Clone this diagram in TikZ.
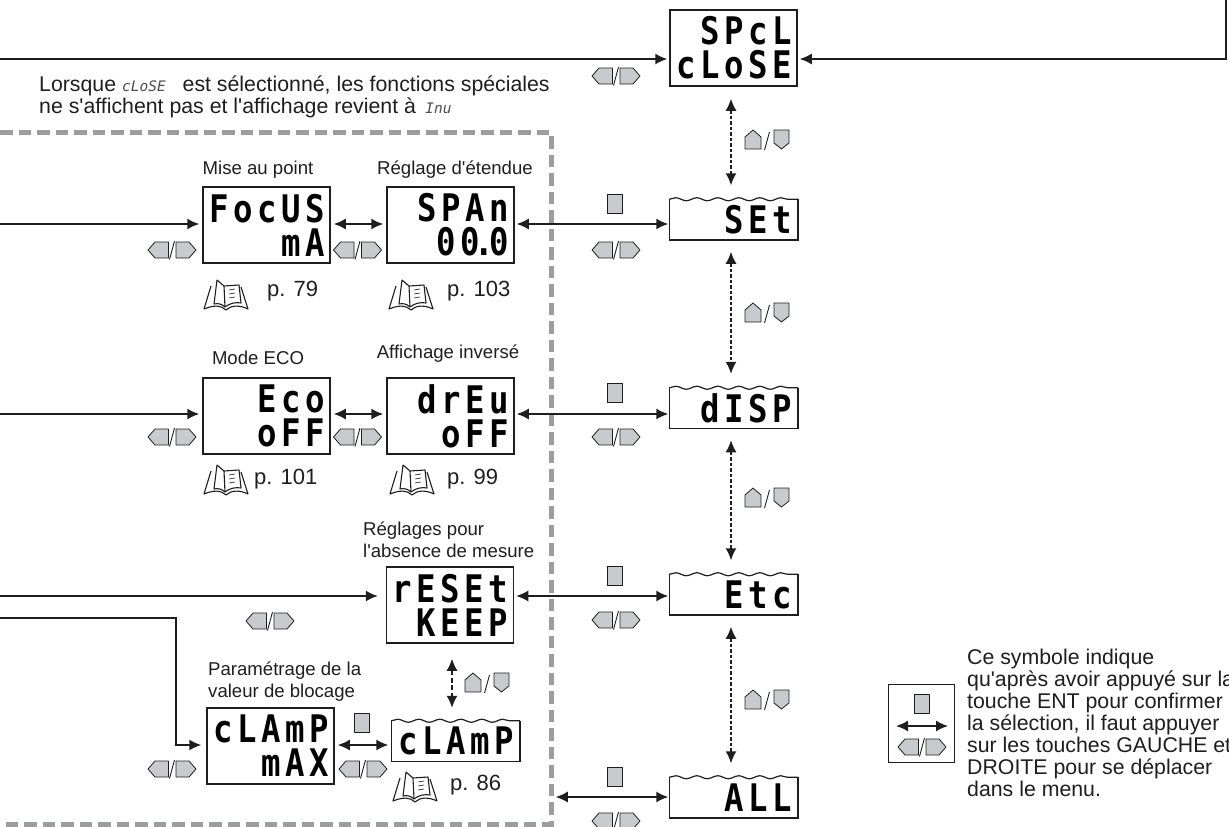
\documentclass[tikz,border=0pt]{standalone}
\usepackage{fontspec}
\usepackage{xcolor}
\usetikzlibrary{arrows.meta, decorations.pathmorphing}
\setmainfont[Ligatures=TeXOff]{Liberation Sans}
\newfontfamily\lcdfont[LetterSpace=12,FakeStretch=0.85]{DejaVu Sans Mono Bold}
\newfontfamily\lcdsmall{DejaVu Sans Mono}
\definecolor{keygray}{RGB}{200,202,205}
\definecolor{framegray}{RGB}{155,157,160}
\definecolor{inkdark}{RGB}{30,30,30}
\newcommand{\lcdword}[1]{{\lcdsmall\itshape\fontsize{14.5}{14}\selectfont\color{black!70}#1}}

\begin{document}
\begin{tikzpicture}[x=1pt,y=-1pt,
  lcd/.style={draw=inkdark, line width=1.5pt, minimum width=127pt, minimum height=76pt, inner sep=0pt,
              text width=116pt, align=right, font=\lcdfont\fontsize{38}{34}\selectfont},
  lcdwave/.style={lcd, draw=none, minimum height=39pt},
  caption/.style={font=\fontsize{18.6}{22}\selectfont, inner sep=0pt, align=left, text=inkdark},
  pageref/.style={font=\fontsize{22}{24}\selectfont, inner sep=0pt, anchor=west, text=inkdark},
  note/.style={font=\fontsize{21.3}{22}\selectfont, inner sep=0pt, align=left, anchor=west, text=inkdark},
  link/.style={line width=1.5pt, draw=inkdark, -{Latex[length=12pt,width=11pt]}},
  dlink/.style={line width=1.5pt, draw=inkdark, {Latex[length=12pt,width=11pt]}-{Latex[length=12pt,width=11pt]}},
  updown/.style={dlink, dash pattern=on 3.5pt off 2pt, shorten <=12pt, shorten >=14pt},
  wave/.style={line width=1.2pt, draw=inkdark, decorate, decoration={snake, segment length=21pt, amplitude=1.5pt}},
  keyshape/.style={fill=keygray, draw=inkdark, line width=0.8pt, line join=round},
  entkey/.pic={\draw[keyshape] (-7.5,-9.5) rectangle (7.5,9.5);},
  lrkey/.pic={
    \draw[keyshape] (-24,0) -- (-17,-8) -- (-3.5,-8) -- (-3.5,8) -- (-17,8) -- cycle;
    \draw[keyshape] (24,0) -- (17,-8) -- (4,-8) -- (4,8) -- (17,8) -- cycle;
    \draw[line width=0.9pt, inkdark] (-2.5,9.5) -- (2.5,-9);},
  udkey/.pic={
    \draw[keyshape] (-22,9) -- (-22,-3) -- (-14,-10) -- (-6,-3) -- (-6,9) -- cycle;
    \draw[keyshape] (7,-10) -- (22,-10) -- (22,3) -- (14.5,9) -- (7,3) -- cycle;
    \draw[line width=0.9pt, inkdark] (-2.5,10) -- (2.5,-8);},
  book/.pic={
    \draw[line width=1.1pt, inkdark, line join=round]
      (-15,-9) -- (-22,14) .. controls (-12,10) and (-5,10) .. (0,15) .. controls (5,10) and (14,10) .. (22,14) -- (15,-8)
      (-9,-15) -- (-12,9) .. controls (-8,8) and (-4,9) .. (-1,12) .. controls (4,8) and (10,7) .. (15,8) -- (13,-10) -- (-2,-9) -- (-9,-15)
      (-2,-9) -- (-1,12);
    \draw[line width=0.6pt, inkdark] (3,-5) -- (9,-6) (3,-1) -- (9,-2) (3,3) -- (9,2);}
]
% rows
\coordinate (toprow) at (0,59);
\coordinate (rowa) at (0,224);
\coordinate (rowb) at (0,414);
\coordinate (rowc) at (0,596);
\coordinate (rowd) at (0,618);
\coordinate (rowe) at (0,797);
\coordinate (corner) at (1226,59);
\coordinate (cornerup) at (1226,0);
\useasboundingbox (0,0) rectangle (1229,827);
\draw[framegray, line width=5pt, dash pattern=on 12.5pt off 6pt] (0,132) -- (551,132) -- (551,824) -- (0,824);

% displays
\node[lcd] (spcl) at (733.5,48) {SPcL\\cLoSE};
\node[lcd] (focus) at (266.5,225) {FocUS\\mA};
\node[lcd] (span) at (450.5,225) {SPAn\\00\kern-5pt.\kern-5pt 0};
\node[lcd] (eco) at (266.5,416) {Eco\\oFF};
\node[lcd] (drev) at (450.5,416) {drEu\\oFF};
\node[lcd] (reset) at (450,605) {rESEt\\KEEP};
\node[lcd] (clamp) at (270.5,746) {cLAmP\\mAX};
\node[lcdwave] (set) at (733.5,219.5) {SEt};
\node[lcdwave] (disp) at (733.5,408) {dISP};
\node[lcdwave] (etc) at (733.5,594.5) {Etc};
\node[lcdwave] (all) at (733.5,797.5) {ALL};
\node[lcdwave] (clampw) at (455.5,741) {cLAmP};
\foreach \n in {set,disp,etc,all,clampw} {
  \draw[inkdark, line width=1.5pt] (\n.north west) -- (\n.south west) -- (\n.south east) -- (\n.north east);
  \draw[wave] (\n.north west) -- (\n.north east);
}

% captions
\node[caption] (capfocus) at (258,170) {Mise au point};
\node[caption] (capspan) at (455,170) {Réglage d'étendue};
\node[caption] (capeco) at (258,358) {Mode ECO};
\node[caption] (capdrev) at (448,354) {Affichage inversé};
\node[caption, anchor=west] (capreset) at (363,540) {Réglages pour\\l'absence de mesure};
\node[caption, anchor=west] (capclamp) at (208,682) {Paramétrage de la\\valeur de blocage};
\node[note] (closenote) at (39,97) {Lorsque \lcdword{cLoSE}\hspace{11pt} est sélectionné, les fonctions spéciales\\ne s'affichent pas et l'affichage revient à \,\lcdword{Inu}};

% page references
\pic at (226,295) {book};
\node[pageref] (pa) at (267,291) {p. 79};
\pic at (411,295) {book};
\node[pageref] (pb) at (447,291) {p. 103};
\pic at (226,480) {book};
\node[pageref] (pc) at (254,479) {p. 101};
\pic at (412,480) {book};
\node[pageref] (pd) at (447,479) {p. 99};
\pic at (415,787) {book};
\node[pageref] (pe) at (450,785) {p. 86};

% connectors
\draw[link, shorten >=2pt] (toprow) -- (toprow -| spcl.west);
\draw[link, shorten >=2pt] (cornerup) -- (corner) -- (corner -| spcl.east);
\draw[link, shorten >=3pt] (rowa) -- (rowa -| focus.west);
\draw[dlink, shorten <=3pt, shorten >=3pt] (rowa -| focus.east) -- (rowa -| span.west);
\draw[dlink, shorten <=2pt, shorten >=1pt] (rowa -| span.east) -- (rowa -| set.west);
\draw[link, shorten >=3pt] (rowb) -- (rowb -| eco.west);
\draw[dlink, shorten <=3pt, shorten >=3pt] (rowb -| eco.east) -- (rowb -| drev.west);
\draw[dlink, shorten <=2pt, shorten >=1pt] (rowb -| drev.east) -- (rowb -| disp.west);
\draw[link, shorten >=8pt] (rowc) -- (rowc -| reset.west);
\draw[dlink, shorten <=2pt, shorten >=1pt] (rowc -| reset.east) -- (rowc -| etc.west);
\draw[link, shorten >=5pt] (rowd) -- (176,618) -- (176,745) -- (clamp.west |- 0,745);
\draw[dlink, shorten <=3pt, shorten >=3pt] (clamp.east |- 0,745) -- (clampw.west |- 0,745);
\draw[dlink, shorten <=4pt, shorten >=1pt] (span.east |- rowe) ++(37,0) -- (rowe -| all.west);
\draw[updown] ([xshift=-2.5pt]spcl.south) -- ([xshift=-2.5pt]set.north);
\draw[updown] ([xshift=-2.5pt]set.south) -- ([xshift=-2.5pt]disp.north);
\draw[updown] ([xshift=-2.5pt]disp.south) -- ([xshift=-2.5pt]etc.north);
\draw[updown] ([xshift=-2.5pt]etc.south) -- ([xshift=-2.5pt]all.north);
\draw[dlink, dash pattern=on 5pt off 2.5pt, shorten <=15pt, shorten >=13pt] ([xshift=2pt]reset.south) -- ([xshift=-3.5pt]clampw.north);

% keys
\pic at (616,76) {lrkey};
\pic at (767,140) {udkey};
\pic at (614.5,204) {entkey};
\pic at (616,250) {lrkey};
\pic at (172,250) {lrkey};
\pic at (357.5,250) {lrkey};
\pic at (767,313) {udkey};
\pic at (614.5,393) {entkey};
\pic at (616,437) {lrkey};
\pic at (172,437) {lrkey};
\pic at (357.5,437) {lrkey};
\pic at (767,498) {udkey};
\pic at (614.5,576) {entkey};
\pic at (616,620) {lrkey};
\pic at (270,621) {lrkey};
\pic at (767,700) {udkey};
\pic at (487,683) {udkey};
\pic at (362,723) {entkey};
\pic at (363,769) {lrkey};
\pic at (172,769) {lrkey};
\pic at (614.5,777) {entkey};
\pic at (616,821) {lrkey};

% legend
\node[draw=inkdark, line width=1pt, minimum width=66pt, minimum height=78pt, inner sep=0pt] (legend) at (921,723) {};
\coordinate (legl) at (896,726);
\coordinate (legr) at (948,726);
\draw[dlink] (legl) -- (legr);
\pic at (922,704) {entkey};
\pic at (922,747) {lrkey};
\node[note] (legendtext) at (967,723) {Ce symbole indique\\qu'après avoir appuyé sur la\\touche ENT pour confirmer\\la sélection, il faut appuyer\\sur les touches GAUCHE et\\DROITE pour se déplacer\\dans le menu.};
\end{tikzpicture}
\end{document}
